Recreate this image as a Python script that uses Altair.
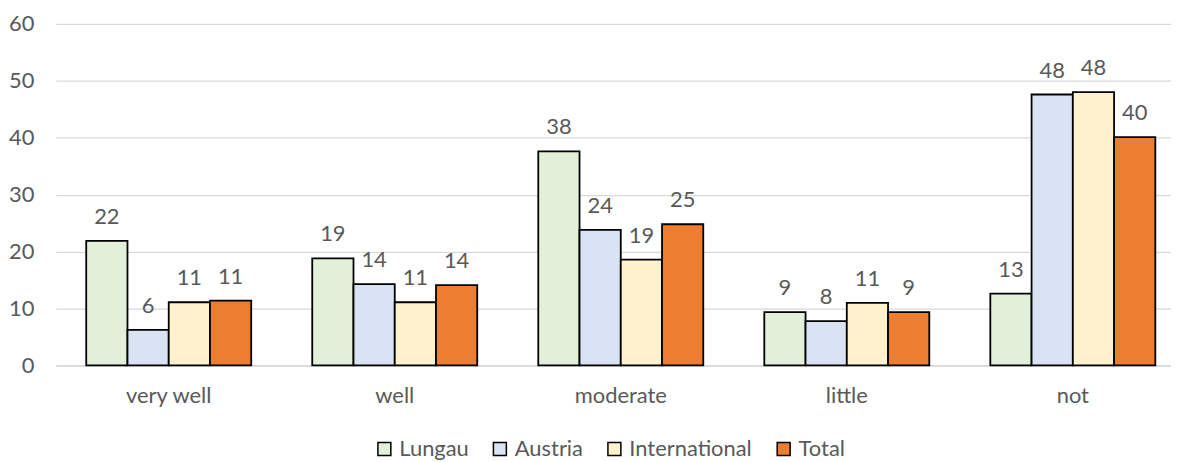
import altair as alt
import pandas as pd

categories = ["very well", "well", "moderate", "little", "not"]
series = ["Lungau", "Austria", "International", "Total"]
lungau = [21.9, 18.8, 37.6, 9.35, 12.6]
austria = [6.25, 14.3, 23.8, 7.8, 47.6]
international = [11.1, 11.1, 18.6, 11.0, 48.0]
total = [11.4, 14.1, 24.8, 9.35, 40.1]
colors = ["#E2F0D9", "#DAE3F3", "#FFF2CC", "#ED7D31"]
y_ticks = [0, 10, 20, 30, 40, 50, 60]

rows = []
for name, vals in zip(series, [lungau, austria, international, total]):
    for c, v in zip(categories, vals):
        rows.append({"category": c, "series": name, "value": v})
df = pd.DataFrame(rows)

FONT = "Lato"
GRAY = "#595959"
GRID = "#D9D9D9"
FS = 22

x = alt.X(
    "category:N", sort=categories, title=None,
    scale=alt.Scale(paddingInner=0.27, paddingOuter=0.102, align=0.66),
    axis=alt.Axis(labelAngle=0, labelFontSize=FS, labelFont=FONT, labelColor=GRAY,
                  ticks=False, tickSize=0, domainColor=GRID, domainWidth=1.5, labelPadding=20),
)
xo = alt.XOffset("series:N", sort=series, scale=alt.Scale(paddingInner=0, paddingOuter=0))
y = alt.Y(
    "value:Q", title=None, scale=alt.Scale(domain=[0, 60]),
    axis=alt.Axis(values=y_ticks, grid=True, gridColor=GRID, gridWidth=1.3, domain=False,
                  ticks=False, tickSize=0, labelPadding=22, minExtent=46,
                  labelFontSize=FS, labelFont=FONT, labelColor=GRAY),
)
color = alt.Color(
    "series:N", sort=series, scale=alt.Scale(domain=series, range=colors),
    legend=alt.Legend(title=None, orient="none", legendX=319, legendY=416, direction="horizontal",
                      symbolType="square", symbolSize=169, symbolStrokeColor="black",
                      symbolStrokeWidth=1.5, symbolOpacity=1, labelFontSize=FS, labelFont=FONT,
                      labelColor=GRAY, columnPadding=20, labelOffset=4),
)

base = alt.Chart(df)
bars = base.mark_bar(stroke="black", strokeWidth=1.8).encode(x=x, xOffset=xo, y=y, color=color)
labels = base.mark_text(dy=-24, fontSize=FS, font=FONT, color=GRAY).encode(
    x=x, xOffset=xo, y=y, text=alt.Text("value:Q", format=".0f")
)

chart = (
    alt.layer(bars, labels)
    .properties(width=1120, height=343, padding={"left": 0, "top": 4, "right": 0, "bottom": 0},
                background="white")
    .configure_view(stroke=None)
)
chart.save("out.html", embed_options={"renderer": "svg", "actions": False})
